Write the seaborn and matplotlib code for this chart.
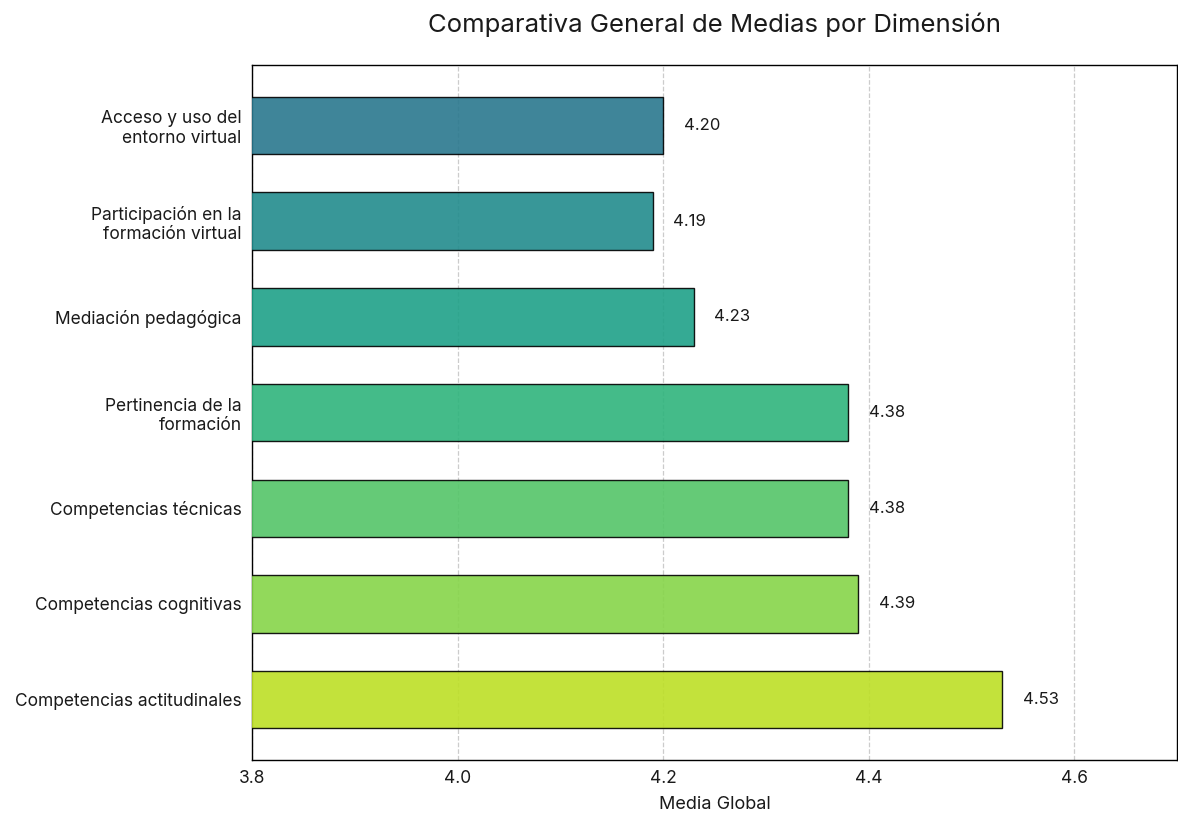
import matplotlib
matplotlib.use('Agg')
import matplotlib.pyplot as plt
import seaborn as sns
import numpy as np
import pandas as pd

dimensiones = [
    'Acceso y uso del\nentorno virtual',
    'Participación en la\nformación virtual',
    'Mediación pedagógica',
    'Pertinencia de la\nformación',
    'Competencias técnicas',
    'Competencias cognitivas',
    'Competencias actitudinales',
]
medias = [4.20, 4.19, 4.23, 4.38, 4.38, 4.39, 4.53]

sns.set_style('white')
plt.rcParams['font.family'] = ['Inter', 'DejaVu Sans']
plt.rcParams['text.color'] = '#1a1a1a'
plt.rcParams['xtick.color'] = '#1a1a1a'
plt.rcParams['ytick.color'] = '#1a1a1a'
plt.rcParams['axes.labelcolor'] = '#1a1a1a'

df = pd.DataFrame({'Dimension': dimensiones, 'Media': medias})
colores = [plt.cm.viridis(v) for v in np.linspace(0.4, 0.9, len(dimensiones))]

fig, ax = plt.subplots(figsize=(11.78, 8.19), dpi=100)
fig.subplots_adjust(left=0.214, right=0.999, top=0.9206, bottom=0.072)

sns.barplot(data=df, x='Media', y='Dimension', hue='Dimension', palette=colores,
            legend=False, orient='h', width=0.6, edgecolor='black', linewidth=1,
            alpha=0.9, saturation=1, ax=ax, zorder=3)

for i, v in enumerate(medias):
    ax.text(v + 0.02, i, f'{v:.2f}', va='center', ha='left', fontsize=12)

ax.set_xlim(3.8, 4.7)
ax.set_ylim(6.63, -0.63)
ax.set_xticks([3.8, 4.0, 4.2, 4.4, 4.6])
ax.grid(axis='x', linestyle='--', color='#cccccc', linewidth=0.9, zorder=0)
ax.set_axisbelow(True)
for s in ax.spines.values():
    s.set_color('black')
    s.set_linewidth(1)
ax.tick_params(axis='y', length=4, labelsize=12.5)
ax.tick_params(axis='x', length=4, labelsize=12.5)
ax.set_ylabel('')
ax.set_xlabel('Media Global', fontsize=13, labelpad=6)
ax.set_title('Comparativa General de Medias por Dimensión', fontsize=18.5, pad=24)

plt.savefig('out.png', dpi=100)
plt.close()
